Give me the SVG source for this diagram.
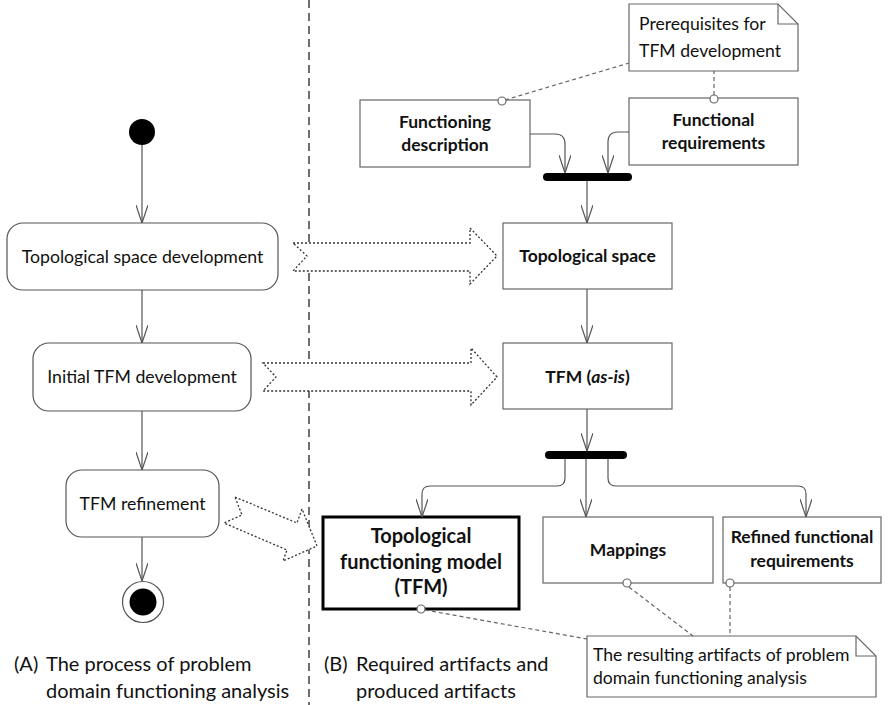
<svg xmlns="http://www.w3.org/2000/svg" width="892" height="705" viewBox="0 0 892 705">
  <style>
    text { font-family: Lato, "Liberation Sans", sans-serif; fill: #111; }
    .lbl { font-size: 17.7px; }
    .bold { font-size: 17.5px; font-weight: bold; }
    .big { font-size: 20px; font-weight: bold; }
    .cap { font-size: 20px; }
    .note { font-size: 17.6px; }
    .act { fill: #fff; stroke: #555; stroke-width: 1.2; }
    .obj { fill: #fff; stroke: #666; stroke-width: 1.2; }
    .flow { fill: none; stroke: #555; stroke-width: 1.2; marker-end: url(#vhead); }
    .link { fill: none; stroke: #666; stroke-width: 1.2; stroke-dasharray: 4 3; }
    .pin { fill: #fff; stroke: #666; stroke-width: 1.2; }
    .bigarrow { fill: #fff; stroke: #333; stroke-width: 1.3; stroke-dasharray: 2 2; }
    .bar { fill: #000; }
  </style>
  <defs>
    <marker id="vhead" viewBox="0 0 18 12" refX="18" refY="6" markerWidth="18" markerHeight="12" markerUnits="userSpaceOnUse" orient="auto">
      <path d="M0,0 L18,6 L0,12" fill="none" stroke="#555" stroke-width="1.2"/>
    </marker>
  </defs>

  <!-- swimlane divider -->
  <line x1="309" y1="0" x2="309" y2="705" stroke="#222" stroke-width="1.3" stroke-dasharray="8 5"/>

  <!-- process (left lane) -->
  <g id="start"><circle cx="142" cy="132" r="13" fill="#000"/></g>
  <g id="topo-dev">
    <rect class="act" x="7" y="223" width="271" height="67" rx="16"/>
    <text class="lbl" x="142.5" y="263" text-anchor="middle">Topological space development</text>
  </g>
  <g id="initial-dev">
    <rect class="act" x="33" y="343" width="218" height="68" rx="16"/>
    <text class="lbl" x="142" y="383" text-anchor="middle">Initial TFM development</text>
  </g>
  <g id="refinement">
    <rect class="act" x="66" y="470" width="153" height="67" rx="16"/>
    <text class="lbl" x="142.5" y="510" text-anchor="middle">TFM refinement</text>
  </g>
  <g id="end">
    <circle cx="143" cy="602" r="20.5" fill="#fff" stroke="#555" stroke-width="1.2"/>
    <circle cx="143" cy="602" r="13.5" fill="#000"/>
  </g>

  <!-- artifacts (right lane) -->
  <g id="note-prereq">
    <polygon class="obj" points="629,4 778,4 798,24 798,71 629,71"/>
    <path d="M778,4 V24 H798" fill="none" stroke="#666" stroke-width="1.2"/>
    <text class="note" x="639" y="30">Prerequisites for</text>
    <text class="note" x="639" y="57">TFM development</text>
  </g>
  <g id="func-desc">
    <rect class="obj" x="360" y="100" width="170" height="67"/>
    <text class="bold" x="445" y="128" text-anchor="middle">Functioning</text>
    <text class="bold" x="445" y="151" text-anchor="middle">description</text>
  </g>
  <g id="func-req">
    <rect class="obj" x="629" y="98" width="169" height="67"/>
    <text class="bold" x="713.5" y="126" text-anchor="middle">Functional</text>
    <text class="bold" x="713.5" y="149" text-anchor="middle">requirements</text>
  </g>
  <g id="join"><rect class="bar" x="543" y="173" width="89" height="8" rx="4"/></g>
  <g id="topo-space">
    <rect class="obj" x="503" y="223" width="169" height="66"/>
    <text class="bold" x="587.5" y="262" text-anchor="middle">Topological space</text>
  </g>
  <g id="tfm-asis">
    <rect class="obj" x="503" y="343" width="169" height="66"/>
    <text class="bold" x="587.5" y="383" text-anchor="middle">TFM (<tspan font-style="italic">as-is</tspan>)</text>
  </g>
  <g id="fork"><rect class="bar" x="545" y="451" width="82" height="8" rx="4"/></g>
  <g id="tfm">
    <rect x="323" y="517" width="196" height="92" fill="#fff" stroke="#000" stroke-width="3"/>
    <text class="big" x="421" y="543" text-anchor="middle">Topological</text>
    <text class="big" x="421" y="569" text-anchor="middle">functioning model</text>
    <text class="big" x="421" y="594" text-anchor="middle">(TFM)</text>
  </g>
  <g id="mappings">
    <rect class="obj" x="543" y="517" width="170" height="66"/>
    <text class="bold" x="628" y="556" text-anchor="middle">Mappings</text>
  </g>
  <g id="refined-req">
    <rect class="obj" x="723" y="517" width="158" height="66"/>
    <text class="bold" x="802" y="543" text-anchor="middle">Refined functional</text>
    <text class="bold" x="802" y="567" text-anchor="middle">requirements</text>
  </g>
  <g id="note-results">
    <polygon class="obj" points="587,636 856,636 876,656 876,697 587,697"/>
    <path d="M856,636 V656 H876" fill="none" stroke="#666" stroke-width="1.2"/>
    <text class="note" x="593" y="661">The resulting artifacts of problem</text>
    <text class="note" x="593" y="684">domain functioning analysis</text>
  </g>

  <!-- lane captions -->
  <g id="caption-a">
    <text class="cap" x="14" y="671">(A)</text>
    <text class="cap" x="46" y="671">The process of problem</text>
    <text class="cap" x="46" y="698">domain functioning analysis</text>
  </g>
  <g id="caption-b">
    <text class="cap" x="324" y="671">(B)</text>
    <text class="cap" x="356" y="671">Required artifacts and</text>
    <text class="cap" x="356" y="698">produced artifacts</text>
  </g>

  <g id="connectors">
    <!-- control flow, left lane -->
    <path class="flow" d="M142,145 V223"/>
    <path class="flow" d="M142,290 V343"/>
    <path class="flow" d="M142,411 V470"/>
    <path class="flow" d="M142,537 V581"/>
    <!-- object flow, right lane -->
    <path class="flow" d="M530,134 H555 Q565,134 565,144 V173"/>
    <path class="flow" d="M629,132 H618 Q608,132 608,142 V173"/>
    <path class="flow" d="M587,181 V223"/>
    <path class="flow" d="M587,289 V343"/>
    <path class="flow" d="M587,409 V451"/>
    <path class="flow" d="M565,459 V478 Q565,486 557,486 H430 Q422,486 422,494 V517"/>
    <path class="flow" d="M586,459 V517"/>
    <path class="flow" d="M608,459 V478 Q608,486 616,486 H798 Q806,486 806,494 V517"/>
    <!-- note anchors -->
    <path class="link" d="M505,100 L629,63"/>
    <path class="link" d="M714,95 V71"/>
    <path class="link" d="M425,610 L587,639"/>
    <path class="link" d="M629,587 L693,636"/>
    <path class="link" d="M730,587 V636"/>
    <circle class="pin" cx="502" cy="101" r="4"/>
    <circle class="pin" cx="714" cy="99" r="4"/>
    <circle class="pin" cx="421" cy="609" r="4"/>
    <circle class="pin" cx="627" cy="583" r="4"/>
    <circle class="pin" cx="730" cy="583" r="4"/>
    <!-- produces arrows between lanes -->
    <polygon class="bigarrow" points="293,243 470,243 470,228 497,256 470,284 470,271 293,271 307,256"/>
    <polygon class="bigarrow" points="263,363 471,363 471,348 497,377 471,405 471,391 263,391 276,377"/>
    <polygon class="bigarrow" points="235,497 297,523 302,509 317,546 283,561 287,550 224,523 242,515"/>
  </g>
</svg>
